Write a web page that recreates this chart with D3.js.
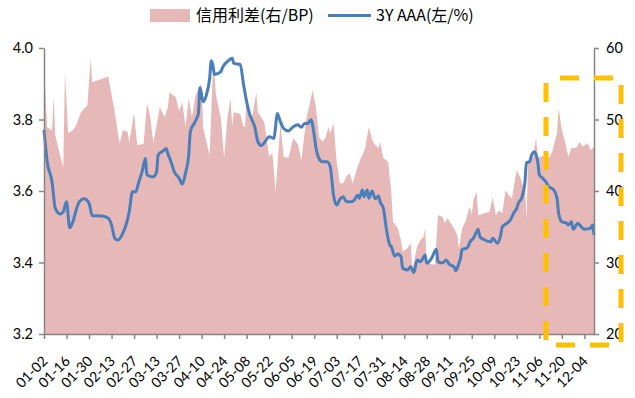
<!DOCTYPE html>
<html>
<head>
<meta charset="utf-8">
<script src="https://cdn.jsdelivr.net/npm/d3@7"></script>
<style>
  body { margin: 0; background: #fff; }
  text { font-family: Lato, "Noto Sans", sans-serif; fill: #000; }
</style>
</head>
<body>
<script>
// chart size
var svg_Width = 635;
var svg_Height = 398;
var margin = { top: 48, right: 41, bottom: 64, left: 44 };
var chart_Width = svg_Width - margin.left - margin.right;
var chart_Height = svg_Height - margin.top - margin.bottom;

// credit spread (right axis, BP)
var spreadDates = ["01-02","01-04","01-07","01-08","01-09","01-12","01-14","01-15","01-17","01-20",
  "01-22","01-25","01-29","01-31","02-01","02-11","02-13","02-15","02-18","02-20",
  "02-23","02-24","02-27","03-01","03-05","03-07","03-09","03-11","03-15","03-18",
  "03-20","03-21","03-25","03-27","03-29","03-31","04-02","04-04","04-06","04-08",
  "04-10","04-11","04-13","04-15","04-17","04-18","04-19","04-22","04-24","04-26",
  "04-28","04-29","04-30","05-04","05-06","05-07","05-08","05-10","05-12","05-14",
  "05-15","05-19","05-22","05-24","05-26","05-28","05-29","05-31","06-03","06-06",
  "06-09","06-11","06-12","06-14","06-16","06-18","06-20","06-22","06-24","06-26",
  "06-28","06-29","07-01","07-03","07-05","07-07","07-09","07-11","07-13","07-16",
  "07-18","07-20","07-21","07-23","07-25","07-27","07-29","07-30","08-01","08-04",
  "08-06","08-07","08-10","08-12","08-13","08-16","08-18","08-19","08-22","08-24",
  "08-26","08-27","08-28","09-02","09-04","09-07","09-08","09-10","09-14","09-16",
  "09-17","09-19","09-21","09-23","09-24","09-25","09-26","09-28","09-29","10-03",
  "10-06","10-08","10-10","10-12","10-14","10-16","10-18","10-20","10-22","10-23",
  "10-25","10-27","10-28","10-29","10-30","11-02","11-04","11-05","11-09","11-12",
  "11-14","11-17","11-18","11-20","11-22","11-24","11-26","11-29","12-01","12-03",
  "12-06","12-08","12-10"];
var spreadValues = [57.5,48.9,48.5,53.1,47.8,45,43.4,56.6,48.1,48.5,
  49.2,51,52,58.6,55.2,56,53.5,51,46.6,48.5,
  48.3,46.8,50.9,46.4,46.6,52.3,50.5,46.7,51.7,50.3,
  51.7,53.8,53.1,51.2,52.4,49,53,50.3,53.1,54.4,
  55,48.8,46.9,45,56.9,56.2,53.4,50.1,44.6,50.1,
  53,49,51,50.8,49.1,48.9,53.7,49.9,51,53.8,
  51,49.6,44.8,45.3,39.9,46.2,49.5,44.8,44.6,47.4,
  46.5,44.3,46.2,49.9,52,54.1,51.8,47.6,46.9,47.4,
  49,48,49.5,44.1,41.1,41.1,42,42.5,41.1,43.4,
  44.6,45.5,46.4,49,47.2,46.4,46,46.9,44.6,44.1,
  39.7,35.7,34.8,33.1,31.5,32,32.7,29,32.2,33.1,
  33.6,34.8,29.9,29.7,36.6,36.4,35.5,36.2,34.8,33.8,
  32,34.8,35.7,37.3,37.8,36.6,38.7,39.9,36.6,36.9,
  37.1,39.1,36.6,37.3,36.9,40.1,39.4,39,41.8,42.9,
  42,40.6,41.5,35.9,44.3,44.6,47.5,44.6,45,44.6,
  45.5,48.1,51.6,48.5,46.9,44.8,46,46,46.9,46.2,
  46.7,45.7,46.2];

// 3Y AAA yield (left axis, %)
var aaaDates = ["01-02","01-04","01-07","01-09","01-12","01-14","01-16","01-18","01-20","01-22",
  "01-24","01-27","01-30","02-01","02-07","02-11","02-13","02-15","02-17","02-20",
  "02-22","02-24","02-26","02-28","03-02","03-04","03-06","03-07","03-10","03-11",
  "03-13","03-14","03-17","03-19","03-20","03-22","03-24","03-27","03-29","03-31",
  "04-02","04-03","04-06","04-08","04-09","04-11","04-13","04-15","04-16","04-17",
  "04-18","04-22","04-23","04-27","04-29","04-30","05-04","05-06","05-08","05-10",
  "05-13","05-15","05-17","05-19","05-22","05-25","05-26","05-27","05-29","05-31",
  "06-03","06-06","06-09","06-11","06-13","06-15","06-17","06-19","06-20","06-22",
  "06-24","06-27","06-29","06-30","07-01","07-03","07-05","07-07","07-09","07-12",
  "07-14","07-16","07-17","07-19","07-20","07-22","07-23","07-25","07-27","07-29",
  "07-30","08-01","08-03","08-05","08-06","08-08","08-10","08-12","08-13","08-16",
  "08-18","08-20","08-22","08-24","08-25","08-27","08-28","08-31","09-03","09-04",
  "09-07","09-09","09-11","09-14","09-15","09-17","09-18","09-19","09-22","09-24",
  "09-26","09-28","09-29","09-30","10-03","10-07","10-08","10-11","10-13","10-14",
  "10-17","10-19","10-21","10-23","10-24","10-26","10-28","10-29","10-31","11-01",
  "11-03","11-05","11-06","11-08","11-10","11-12","11-15","11-17","11-18","11-20",
  "11-23","11-24","11-26","11-27","11-30","12-02","12-04","12-08","12-09","12-10"];
var aaaValues = [3.771,3.682,3.626,3.552,3.536,3.542,3.570,3.497,3.514,3.547,
  3.570,3.578,3.566,3.531,3.530,3.524,3.505,3.468,3.463,3.482,
  3.505,3.542,3.598,3.598,3.626,3.654,3.691,3.645,3.640,3.640,
  3.654,3.701,3.712,3.719,3.705,3.682,3.654,3.636,3.619,3.650,
  3.701,3.766,3.794,3.817,3.889,3.850,3.869,3.915,3.964,3.952,
  3.926,3.934,3.945,3.966,3.971,3.957,3.954,3.901,3.850,3.813,
  3.780,3.738,3.727,3.735,3.752,3.747,3.780,3.817,3.794,3.775,
  3.768,3.780,3.785,3.778,3.789,3.789,3.799,3.757,3.724,3.691,
  3.682,3.682,3.668,3.631,3.589,3.561,3.577,3.584,3.570,3.570,
  3.575,3.589,3.580,3.603,3.584,3.603,3.580,3.600,3.578,3.586,
  3.570,3.552,3.491,3.449,3.444,3.418,3.424,3.416,3.384,3.379,
  3.388,3.372,3.407,3.402,3.407,3.421,3.398,3.412,3.437,3.402,
  3.399,3.407,3.395,3.388,3.377,3.398,3.412,3.437,3.440,3.458,
  3.468,3.486,3.493,3.472,3.463,3.458,3.468,3.454,3.477,3.500,
  3.510,3.519,3.538,3.552,3.566,3.580,3.622,3.679,3.682,3.698,
  3.710,3.682,3.645,3.636,3.626,3.612,3.603,3.580,3.538,3.514,
  3.510,3.505,3.514,3.493,3.510,3.500,3.493,3.496,3.505,3.477];

// x axis labels, every two weeks
var tickLabels = ["01-02","01-16","01-30","02-13","02-27","03-13","03-27","04-10","04-24","05-08",
  "05-22","06-05","06-19","07-03","07-17","07-31","08-14","08-28","09-11","09-25",
  "10-09","10-23","11-06","11-20","12-04"];
var leftTicks = [3.2, 3.4, 3.6, 3.8, 4.0];
var rightTicks = [20, 30, 40, 50, 60];
var legendNames = ["信用利差(右/BP)", "3Y AAA(左/%)"];

var areaColor = "#e6b9b8";
var lineColor = "#4a7ebb";
var axisColor = "#868686";

var parseDay = d3.timeParse("%Y-%m-%d");
function toDate(s) { return parseDay("2019-" + s); }

var spreadData = spreadDates.map(function(d, i) { return { date: toDate(d), value: spreadValues[i] }; });
var aaaData = aaaDates.map(function(d, i) { return { date: toDate(d), value: aaaValues[i] }; });

var svg = d3.select("body")
  .append("svg")
  .attr("width", svg_Width)
  .attr("height", svg_Height);

var chartGroup = svg.append("g")
  .attr("transform", `translate(${margin.left}, ${margin.top})`);

// scales
var x_scale = d3.scaleTime()
  .domain([toDate("01-02"), toDate("12-10")])
  .range([0, chart_Width]);
var y_left = d3.scaleLinear().domain([3.2, 4.0]).range([chart_Height, 0]);
var y_right = d3.scaleLinear().domain([20, 60]).range([chart_Height, 0]);

// spread area
var area = d3.area()
  .x(d => x_scale(d.date))
  .y0(chart_Height)
  .y1(d => y_right(d.value));

chartGroup.append("path")
  .datum(spreadData)
  .attr("d", area)
  .attr("fill", areaColor);

// yield line
var line = d3.line()
  .x(d => x_scale(d.date))
  .y(d => y_left(d.value))
  .curve(d3.curveMonotoneX);

chartGroup.append("path")
  .datum(aaaData)
  .attr("d", line)
  .attr("fill", "none")
  .attr("stroke", lineColor)
  .attr("stroke-width", 3)
  .attr("stroke-linejoin", "round");

// axes
var bottom_Axis = d3.axisBottom(x_scale)
  .tickValues(tickLabels.map(toDate))
  .tickFormat(d3.timeFormat("%m-%d"))
  .tickSize(5)
  .tickSizeOuter(0);
var left_Axis = d3.axisLeft(y_left)
  .tickValues(leftTicks)
  .tickFormat(d3.format(".1f"))
  .tickSize(5)
  .tickSizeOuter(0);
var right_Axis = d3.axisRight(y_right)
  .tickValues(rightTicks)
  .tickSize(5)
  .tickSizeOuter(0);

var gx = chartGroup.append("g")
  .attr("transform", `translate(0, ${chart_Height})`)
  .call(bottom_Axis);
gx.selectAll("text")
  .attr("text-anchor", "end")
  .attr("dx", null)
  .attr("dy", null)
  .attr("y", 0)
  .attr("transform", "translate(4, 28) rotate(-45)")
  .style("font-size", "14px");

var gl = chartGroup.append("g").call(left_Axis);
gl.selectAll("text").attr("x", -11).style("font-size", "14.5px");

var gr = chartGroup.append("g")
  .attr("transform", `translate(${chart_Width}, 0)`)
  .call(right_Axis);
gr.selectAll("text").attr("x", 12).style("font-size", "14.5px");

[gx, gl, gr].forEach(function(g) {
  g.selectAll(".domain").attr("stroke", axisColor).attr("stroke-width", 1.5);
  g.selectAll(".tick line").attr("stroke", axisColor).attr("stroke-width", 1.5);
});

// legend
var legend = svg.append("g");
legend.append("rect")
  .attr("x", 150).attr("y", 9).attr("width", 40).attr("height", 13)
  .attr("fill", areaColor);
legend.append("text")
  .attr("x", 196).attr("y", 21)
  .style("font-family", "'Noto Sans CJK SC', sans-serif")
  .style("font-size", "16px")
  .text(legendNames[0]);
legend.append("line")
  .attr("x1", 328).attr("x2", 371).attr("y1", 15.5).attr("y2", 15.5)
  .attr("stroke", lineColor).attr("stroke-width", 3);
legend.append("text")
  .attr("x", 376).attr("y", 21)
  .style("font-family", "'Noto Sans CJK SC', sans-serif")
  .style("font-size", "16px")
  .text(legendNames[1]);

// highlight box on the latest weeks
svg.append("rect")
  .attr("x", 546).attr("y", 78).attr("width", 75).attr("height", 267)
  .attr("fill", "none")
  .attr("stroke", "#ffc000")
  .attr("stroke-width", 5)
  .attr("stroke-dasharray", "19,15")
  .attr("stroke-dashoffset", 20);
</script>
</body>
</html>
